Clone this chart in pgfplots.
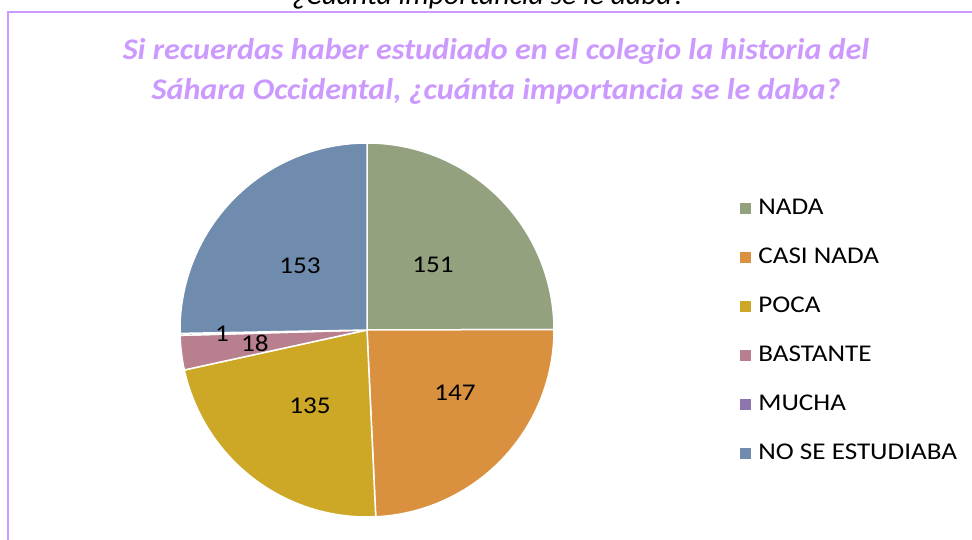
\documentclass[border=0pt]{standalone}
\usepackage{pgfplots}
\pgfplotsset{compat=1.18}
\usepackage{pgfplotstable}
\usepackage{fontspec}
\setmainfont{Carlito}
\newfontfamily\legfont{Carlito}[FakeStretch=1.13]
\newfontfamily\titlefont{Carlito}[FakeStretch=1.07]
\newfontfamily\capfont{Carlito}[FakeStretch=1.06]
\definecolor{cNada}{RGB}{147,161,127}
\definecolor{cCasi}{RGB}{217,145,64}
\definecolor{cPoca}{RGB}{205,168,38}
\definecolor{cBast}{RGB}{184,127,142}
\definecolor{cMucha}{RGB}{141,118,173}
\definecolor{cNoSe}{RGB}{111,139,173}
\definecolor{titlec}{RGB}{204,153,255}
\definecolor{framec}{RGB}{204,153,255}
\pgfplotstableread{
cat value
NADA 151
CASI_NADA 147
POCA 135
BASTANTE 18
MUCHA 1
NO_SE_ESTUDIABA 153
}\piedata
\begin{document}
\begin{tikzpicture}[x=1pt,y=1pt]
\pgfplotstablegetelem{0}{value}\of\piedata \let\vA\pgfplotsretval
\pgfplotstablegetelem{1}{value}\of\piedata \let\vB\pgfplotsretval
\pgfplotstablegetelem{2}{value}\of\piedata \let\vC\pgfplotsretval
\pgfplotstablegetelem{3}{value}\of\piedata \let\vD\pgfplotsretval
\pgfplotstablegetelem{4}{value}\of\piedata \let\vE\pgfplotsretval
\pgfplotstablegetelem{5}{value}\of\piedata \let\vF\pgfplotsretval
\pgfmathsetmacro\cA{0}
\pgfmathsetmacro\cB{\cA+\vA}
\pgfmathsetmacro\cC{\cB+\vB}
\pgfmathsetmacro\cD{\cC+\vC}
\pgfmathsetmacro\cE{\cD+\vD}
\pgfmathsetmacro\cF{\cE+\vE}
\pgfmathsetmacro\cG{\cF+\vF}
\pgfmathsetmacro\tot{\cG}
% frame
\draw[color=framec, line width=1.5pt] (8,0) -- (8,528) -- (972,528);
% cut-off caption at top
\begin{scope}
\clip (0,0) rectangle (972,540);
\node[anchor=base, inner sep=0pt, font=\capfont\fontsize{28}{34}\selectfont\itshape] at (489,535) {¿Cuánta importancia se le daba?};
\end{scope}
% title
\node[align=center, text=titlec, font=\titlefont\fontsize{30}{40}\selectfont\bfseries\itshape] at (496,469)
  {Si recuerdas haber estudiado en el colegio la historia del\\Sáhara Occidental, ¿cuánta importancia se le daba?};
\begin{axis}[
  at={(367pt,210pt)}, anchor=center,
  scale only axis, width=374pt, height=374pt,
  xmin=-1, xmax=1, ymin=-1, ymax=1,
  hide axis, clip=false,
  legend style={at={(1.487,0.861)}, anchor=north west, draw=none, fill=none,
    font=\legfont\fontsize{24}{28}\selectfont, row sep=26pt,
    nodes={inner sep=2pt, text height=15pt, text depth=4pt}},
  legend cell align=left,
  legend image code/.code={\fill[#1, draw=none, line width=0pt] (1pt,-5pt) rectangle (12pt,6pt);
     \path[draw=none, fill=none] (0pt,0pt) rectangle (17pt,1pt);},
  every axis plot/.append style={draw=white, line width=1.5pt, samples=90, variable=\t},
]
\addplot[fill=cNada, domain=\cA:\cB] ({cos(90-360*\t/\tot)},{sin(90-360*\t/\tot)}) -- (axis cs:0,0) -- cycle;
\addlegendentry{NADA}
\addplot[fill=cCasi, domain=\cB:\cC] ({cos(90-360*\t/\tot)},{sin(90-360*\t/\tot)}) -- (axis cs:0,0) -- cycle;
\addlegendentry{CASI NADA}
\addplot[fill=cPoca, domain=\cC:\cD] ({cos(90-360*\t/\tot)},{sin(90-360*\t/\tot)}) -- (axis cs:0,0) -- cycle;
\addlegendentry{POCA}
\addplot[fill=cBast, domain=\cD:\cE] ({cos(90-360*\t/\tot)},{sin(90-360*\t/\tot)}) -- (axis cs:0,0) -- cycle;
\addlegendentry{BASTANTE}
\addplot[fill=cMucha, domain=\cE:\cF, samples=5] ({cos(90-360*\t/\tot)},{sin(90-360*\t/\tot)}) -- (axis cs:0,0) -- cycle;
\addlegendentry{MUCHA}
\addplot[fill=cNoSe, domain=\cF:\cG] ({cos(90-360*\t/\tot)},{sin(90-360*\t/\tot)}) -- (axis cs:0,0) -- cycle;
\addlegendentry{NO SE ESTUDIABA}
\begin{scope}[every node/.style={font=\legfont\fontsize{24}{28}\selectfont, text=black}]
\node at (axis cs:0.353,0.348) {151};
\node at (axis cs:0.471,-0.337) {147};
\node at (axis cs:-0.305,-0.406) {135};
\node at (axis cs:-0.599,-0.069) {18};
\node at (axis cs:-0.775,-0.021) {1};
\node at (axis cs:-0.358,0.342) {153};
\end{scope}
\end{axis}
\pgfresetboundingbox
\useasboundingbox (0,0) rectangle (972,540);
\end{tikzpicture}
\end{document}
